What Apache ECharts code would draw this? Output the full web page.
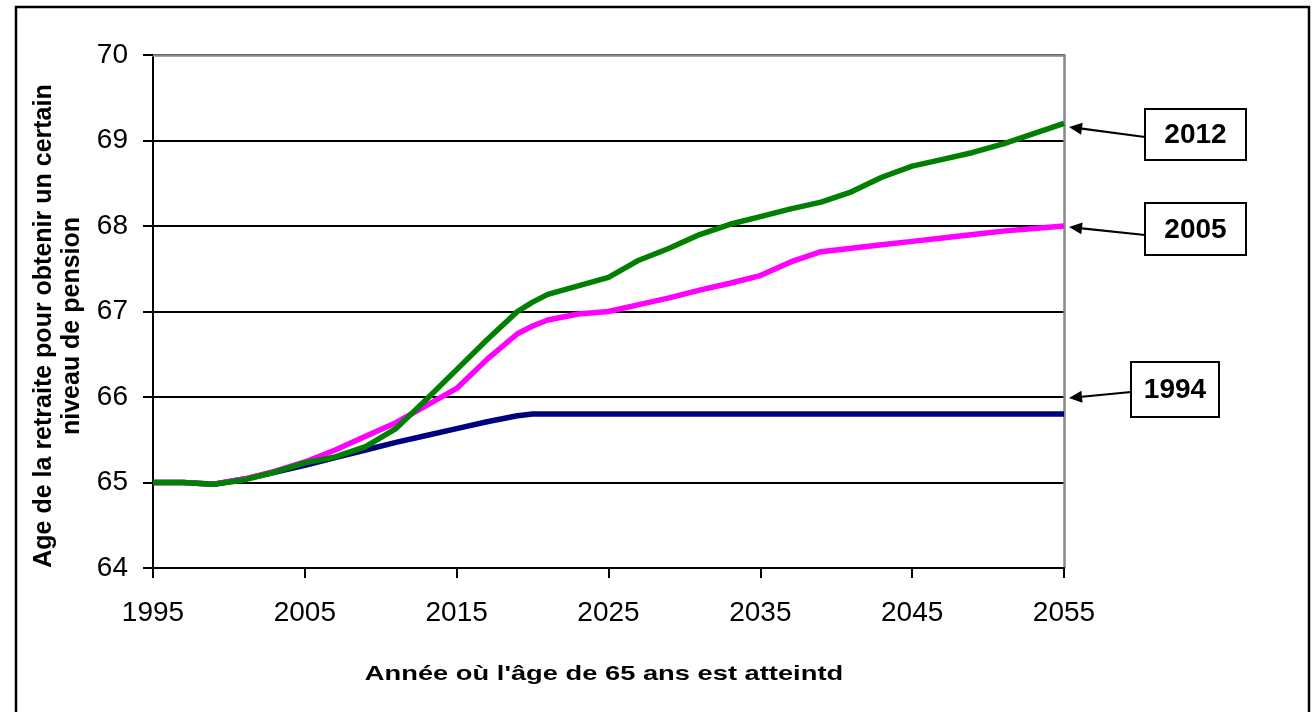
<!DOCTYPE html>
<html>
<head>
<meta charset="utf-8">
<title>Age de la retraite</title>
<script src="https://cdn.jsdelivr.net/npm/echarts@6/dist/echarts.min.js"></script>
<style>
  html, body { margin: 0; padding: 0; background: #fff; }
  #main { width: 1312px; height: 712px; }
</style>
</head>
<body>
<div id="main"></div>
<script>
// années (axe x)
var years = [1995, 1997, 1999, 2001, 2003, 2005, 2007, 2009, 2011, 2013, 2015, 2017, 2019, 2020,
  2021, 2023, 2025, 2027, 2029, 2031, 2033, 2035, 2037, 2039, 2041, 2043, 2045, 2047, 2049, 2051, 2053, 2055];

// réforme 1994
var age1994 = [65.0, 65.0, 64.98, 65.04, 65.12, 65.2, 65.29, 65.38, 65.47, 65.55, 65.63, 65.71, 65.78, 65.8,
  65.8, 65.8, 65.8, 65.8, 65.8, 65.8, 65.8, 65.8, 65.8, 65.8, 65.8, 65.8, 65.8, 65.8, 65.8, 65.8, 65.8, 65.8];
// réforme 2005
var age2005 = [65.0, 65.0, 64.98, 65.04, 65.13, 65.24, 65.38, 65.54, 65.7, 65.9, 66.1, 66.44, 66.74, 66.83,
  66.9, 66.97, 67.0, 67.08, 67.16, 67.25, 67.33, 67.42, 67.58, 67.7, 67.74, 67.78, 67.82, 67.86, 67.9, 67.94, 67.97, 68.0];
// réforme 2012
var age2012 = [65.0, 65.0, 64.98, 65.03, 65.12, 65.23, 65.3, 65.42, 65.63, 65.97, 66.32, 66.67, 67.0, 67.11,
  67.2, 67.3, 67.4, 67.6, 67.74, 67.9, 68.02, 68.11, 68.2, 68.28, 68.4, 68.57, 68.7, 68.78, 68.86, 68.96, 69.08, 69.2];

var yTicks = [64, 65, 66, 67, 68, 69, 70];
var xTicks = [1995, 2005, 2015, 2025, 2035, 2045, 2055];

var xTitle = "Année où l'âge de 65 ans est atteintd";
var yTitle = ["Age de la retraite pour obtenir un certain", "niveau de pension"];
var labels = ["2012", "2005", "1994"];

var FONT = '"Liberation Sans", Arial, sans-serif';

function pairs(vals) {
  var out = [];
  for (var i = 0; i < years.length; i++) {
    out.push([years[i], vals[i]]);
  }
  return out;
}

function lineSerie(name, vals, color) {
  return {
    name: name,
    type: 'line',
    data: pairs(vals),
    showSymbol: false,
    symbol: 'none',
    lineStyle: { color: color, width: 5.5 },
    itemStyle: { color: color },
    z: 3
  };
}

// flèche + boîte de légende
function callout(text, box, from, tip) {
  var els = [];
  var dx = tip[0] - from[0], dy = tip[1] - from[1];
  var len = Math.sqrt(dx * dx + dy * dy);
  var ux = dx / len, uy = dy / len;
  var hl = 13, hw = 6;
  var bx = tip[0] - ux * hl, by = tip[1] - uy * hl;
  els.push({
    type: 'line',
    shape: { x1: from[0], y1: from[1], x2: bx, y2: by },
    style: { stroke: '#000', lineWidth: 2.2 }
  });
  els.push({
    type: 'polygon',
    shape: { points: [[tip[0], tip[1]], [bx - uy * hw, by + ux * hw], [bx + uy * hw, by - ux * hw]] },
    style: { fill: '#000' }
  });
  els.push({
    type: 'rect',
    shape: { x: box[0], y: box[1], width: box[2], height: box[3] },
    style: { fill: '#fff', stroke: '#000', lineWidth: 2 }
  });
  els.push({
    type: 'text',
    x: box[0] + box[2] / 2,
    y: box[1] + box[3] / 2 + 1,
    style: {
      text: text, fill: '#000', align: 'center', verticalAlign: 'middle',
      font: 'bold 28px ' + FONT
    }
  });
  return els;
}

var graphics = [
  {
    type: 'rect',
    shape: { x: 16, y: 7, width: 1293, height: 720 },
    style: { fill: null, stroke: '#000', lineWidth: 2.5 },
    z: 0
  },
  {
    // titre de l'axe x (texte un peu étiré comme dans l'original)
    type: 'text',
    x: 604,
    y: 674,
    scaleX: 1.3,
    style: {
      text: xTitle, fill: '#000', align: 'center', verticalAlign: 'middle',
      font: 'bold 21px ' + FONT
    }
  },
  {
    type: 'text',
    x: 58,
    y: 326,
    rotation: Math.PI / 2,
    style: {
      text: yTitle.join('\n'), fill: '#000', align: 'center', verticalAlign: 'middle',
      lineHeight: 28,
      font: 'bold 25px ' + FONT
    }
  }
];
graphics = graphics.concat(callout(labels[0], [1145, 109, 101, 51], [1145, 137], [1069, 127]));
graphics = graphics.concat(callout(labels[1], [1145, 203, 101, 52], [1145, 235], [1069, 227]));
graphics = graphics.concat(callout(labels[2], [1131, 362, 88, 55], [1131, 392], [1069, 398]));

var option = {
  backgroundColor: '#fff',
  animation: false,
  grid: { left: 153, top: 55, right: 248, bottom: 144, containLabel: false },
  xAxis: [{
    type: 'value',
    min: 1995,
    max: 2055,
    interval: 10,
    axisLine: { show: true, lineStyle: { color: '#000', width: 2 } },
    axisTick: { show: true, inside: false, length: 10, lineStyle: { color: '#000', width: 2 } },
    axisLabel: {
      margin: 31, color: '#000', fontSize: 28, fontFamily: FONT,
      formatter: function (v) { return xTicks.indexOf(v) >= 0 ? String(v) : ''; }
    },
    splitLine: { show: false }
  }, {
    // bord haut du cadre
    type: 'value',
    position: 'top',
    min: 1995,
    max: 2055,
    axisLine: { show: true, lineStyle: { color: '#888', width: 2.5 } },
    axisTick: { show: false },
    axisLabel: { show: false },
    splitLine: { show: false }
  }],
  yAxis: [{
    type: 'value',
    min: 64,
    max: 70,
    interval: 1,
    axisLine: { show: true, lineStyle: { color: '#000', width: 2 } },
    axisTick: { show: true, inside: false, length: 10, lineStyle: { color: '#000', width: 2 } },
    axisLabel: {
      margin: 25, color: '#000', fontSize: 28, fontFamily: FONT,
      formatter: function (v) { return yTicks.indexOf(v) >= 0 ? String(v) : ''; }
    },
    splitLine: { show: true, lineStyle: { color: '#000', width: 2 } }
  }, {
    // bord droit du cadre
    type: 'value',
    position: 'right',
    min: 64,
    max: 70,
    axisLine: { show: true, lineStyle: { color: '#888', width: 2.5 } },
    axisTick: { show: false },
    axisLabel: { show: false },
    splitLine: { show: false }
  }],
  series: [
    lineSerie('1994', age1994, '#000080'),
    lineSerie('2005', age2005, '#ff00ff'),
    lineSerie('2012', age2012, '#008000')
  ],
  graphic: graphics
};

var chart = echarts.init(document.getElementById('main'));
chart.setOption(option);
</script>
</body>
</html>
